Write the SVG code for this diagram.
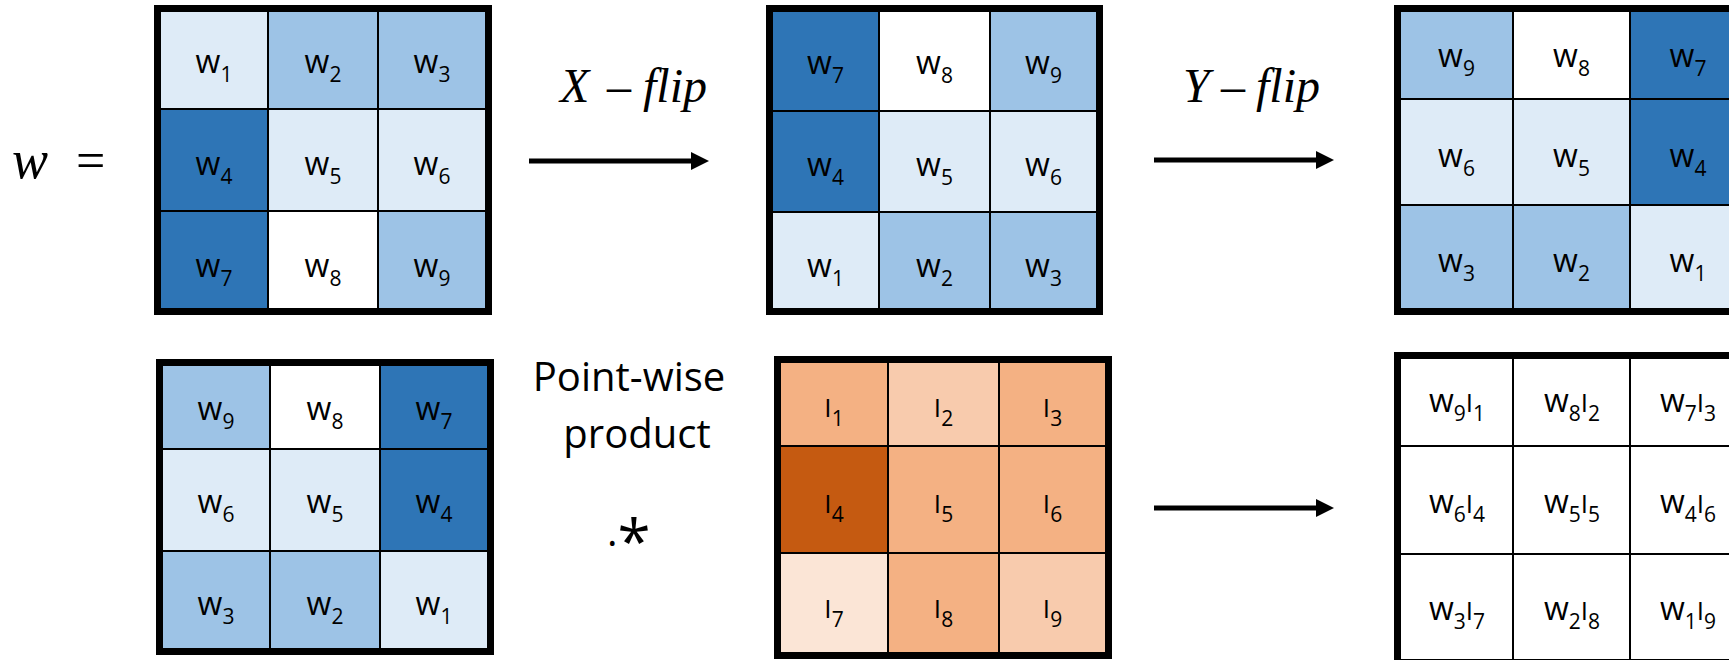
<svg xmlns="http://www.w3.org/2000/svg" width="1729" height="660" viewBox="0 0 1729 660">
<style>
.c{stroke:#000;stroke-width:2}
.b{fill:none;stroke:#000;stroke-width:6}
.d{fill:#2E75B6}.m{fill:#9DC3E6}.l{fill:#DEEBF7}.wh{fill:#FFFFFF}
.od{fill:#C55A11}.om{fill:#F4B183}.ol{fill:#F8CBAD}.ov{fill:#FBE5D6}
.t{font-family:"Open Sans","Noto Sans",sans-serif;font-size:32px;text-anchor:middle;fill:#000}
.s{font-size:21px}
.i{font-size:26px}
.m1{font-family:"Liberation Serif","Times New Roman",serif;font-style:italic;font-size:48px;fill:#000}
.lab{font-family:"Open Sans","Noto Sans",sans-serif;font-size:40px;text-anchor:middle;fill:#000}
.arr{stroke:#000;stroke-width:5;fill:none}
</style>
<defs>
<marker id="ah" viewBox="0 0 18 18" markerWidth="18" markerHeight="18" refX="8" refY="9" markerUnits="userSpaceOnUse" orient="auto">
<path d="M0,0 L18,9 L0,18 z" fill="#000"/>
</marker>
</defs>

<g id="w-label">
<text x="12" y="178" font-family="Liberation Serif, serif" font-style="italic" font-size="54">w</text>
<text x="76" y="178" font-family="Liberation Serif, serif" font-size="52">=</text>
</g>

<g id="grid-w">
<rect class="c l" x="160" y="11" width="108" height="98"/>
<rect class="c m" x="268" y="11" width="110" height="98"/>
<rect class="c m" x="378" y="11" width="108" height="98"/>
<rect class="c d" x="160" y="109" width="108" height="102"/>
<rect class="c l" x="268" y="109" width="110" height="102"/>
<rect class="c l" x="378" y="109" width="108" height="102"/>
<rect class="c d" x="160" y="211" width="108" height="98"/>
<rect class="c wh" x="268" y="211" width="110" height="98"/>
<rect class="c m" x="378" y="211" width="108" height="98"/>
<rect class="b" x="157" y="8" width="332" height="304"/>
<text class="t" x="214" y="73">w<tspan class="s" dy="9">1</tspan></text>
<text class="t" x="323" y="73">w<tspan class="s" dy="9">2</tspan></text>
<text class="t" x="432" y="73">w<tspan class="s" dy="9">3</tspan></text>
<text class="t" x="214" y="175">w<tspan class="s" dy="9">4</tspan></text>
<text class="t" x="323" y="175">w<tspan class="s" dy="9">5</tspan></text>
<text class="t" x="432" y="175">w<tspan class="s" dy="9">6</tspan></text>
<text class="t" x="214" y="277">w<tspan class="s" dy="9">7</tspan></text>
<text class="t" x="323" y="277">w<tspan class="s" dy="9">8</tspan></text>
<text class="t" x="432" y="277">w<tspan class="s" dy="9">9</tspan></text>
</g>

<g id="label-xflip">
<text class="m1" y="102"><tspan x="560">X</tspan><tspan x="607">–</tspan><tspan x="643">flip</tspan></text>
</g>

<g id="grid-xflip">
<rect class="c d" x="772" y="11" width="107" height="100"/>
<rect class="c wh" x="879" y="11" width="111" height="100"/>
<rect class="c m" x="990" y="11" width="107" height="100"/>
<rect class="c d" x="772" y="111" width="107" height="101"/>
<rect class="c l" x="879" y="111" width="111" height="101"/>
<rect class="c l" x="990" y="111" width="107" height="101"/>
<rect class="c l" x="772" y="212" width="107" height="97"/>
<rect class="c m" x="879" y="212" width="111" height="97"/>
<rect class="c m" x="990" y="212" width="107" height="97"/>
<rect class="b" x="769" y="8" width="331" height="304"/>
<text class="t" x="825.5" y="74">w<tspan class="s" dy="9">7</tspan></text>
<text class="t" x="934.5" y="74">w<tspan class="s" dy="9">8</tspan></text>
<text class="t" x="1043.5" y="74">w<tspan class="s" dy="9">9</tspan></text>
<text class="t" x="825.5" y="176">w<tspan class="s" dy="9">4</tspan></text>
<text class="t" x="934.5" y="176">w<tspan class="s" dy="9">5</tspan></text>
<text class="t" x="1043.5" y="176">w<tspan class="s" dy="9">6</tspan></text>
<text class="t" x="825.5" y="277">w<tspan class="s" dy="9">1</tspan></text>
<text class="t" x="934.5" y="277">w<tspan class="s" dy="9">2</tspan></text>
<text class="t" x="1043.5" y="277">w<tspan class="s" dy="9">3</tspan></text>
</g>

<g id="label-yflip">
<text class="m1" y="102"><tspan x="1183">Y</tspan><tspan x="1221">–</tspan><tspan x="1256">flip</tspan></text>
</g>

<g id="grid-yflip">
<rect class="c m" x="1400" y="11" width="113" height="88"/>
<rect class="c wh" x="1513" y="11" width="117" height="88"/>
<rect class="c d" x="1630" y="11" width="116" height="88"/>
<rect class="c l" x="1400" y="99" width="113" height="106"/>
<rect class="c l" x="1513" y="99" width="117" height="106"/>
<rect class="c d" x="1630" y="99" width="116" height="106"/>
<rect class="c m" x="1400" y="205" width="113" height="104"/>
<rect class="c m" x="1513" y="205" width="117" height="104"/>
<rect class="c l" x="1630" y="205" width="116" height="104"/>
<rect class="b" x="1397" y="8" width="352" height="304"/>
<text class="t" x="1456.5" y="67">w<tspan class="s" dy="9">9</tspan></text>
<text class="t" x="1571.5" y="67">w<tspan class="s" dy="9">8</tspan></text>
<text class="t" x="1688" y="67">w<tspan class="s" dy="9">7</tspan></text>
<text class="t" x="1456.5" y="167">w<tspan class="s" dy="9">6</tspan></text>
<text class="t" x="1571.5" y="167">w<tspan class="s" dy="9">5</tspan></text>
<text class="t" x="1688" y="167">w<tspan class="s" dy="9">4</tspan></text>
<text class="t" x="1456.5" y="272">w<tspan class="s" dy="9">3</tspan></text>
<text class="t" x="1571.5" y="272">w<tspan class="s" dy="9">2</tspan></text>
<text class="t" x="1688" y="272">w<tspan class="s" dy="9">1</tspan></text>
</g>

<g id="grid-flipped">
<rect class="c m" x="162" y="365" width="108" height="84"/>
<rect class="c wh" x="270" y="365" width="110" height="84"/>
<rect class="c d" x="380" y="365" width="108" height="84"/>
<rect class="c l" x="162" y="449" width="108" height="102"/>
<rect class="c l" x="270" y="449" width="110" height="102"/>
<rect class="c d" x="380" y="449" width="108" height="102"/>
<rect class="c m" x="162" y="551" width="108" height="98"/>
<rect class="c m" x="270" y="551" width="110" height="98"/>
<rect class="c l" x="380" y="551" width="108" height="98"/>
<rect class="b" x="159" y="362" width="332" height="290"/>
<text class="t" x="216" y="420">w<tspan class="s" dy="9">9</tspan></text>
<text class="t" x="325" y="420">w<tspan class="s" dy="9">8</tspan></text>
<text class="t" x="434" y="420">w<tspan class="s" dy="9">7</tspan></text>
<text class="t" x="216" y="513">w<tspan class="s" dy="9">6</tspan></text>
<text class="t" x="325" y="513">w<tspan class="s" dy="9">5</tspan></text>
<text class="t" x="434" y="513">w<tspan class="s" dy="9">4</tspan></text>
<text class="t" x="216" y="615">w<tspan class="s" dy="9">3</tspan></text>
<text class="t" x="325" y="615">w<tspan class="s" dy="9">2</tspan></text>
<text class="t" x="434" y="615">w<tspan class="s" dy="9">1</tspan></text>
</g>

<g id="label-product">
<text class="lab" x="629" y="391">Point-wise</text>
<text class="lab" x="637" y="448">product</text>
<text x="607" y="546" font-family="Open Sans, Noto Sans, sans-serif" font-size="40">.<tspan font-size="60" dy="17">*</tspan></text>
</g>

<g id="grid-image">
<rect class="c om" x="780" y="362" width="108" height="84"/>
<rect class="c ol" x="888" y="362" width="111" height="84"/>
<rect class="c om" x="999" y="362" width="107" height="84"/>
<rect class="c od" x="780" y="446" width="108" height="107"/>
<rect class="c om" x="888" y="446" width="111" height="107"/>
<rect class="c om" x="999" y="446" width="107" height="107"/>
<rect class="c ov" x="780" y="553" width="108" height="100"/>
<rect class="c om" x="888" y="553" width="111" height="100"/>
<rect class="c ol" x="999" y="553" width="107" height="100"/>
<rect class="b" x="777" y="359" width="332" height="297"/>
<text class="t i" x="834" y="417">I<tspan class="s" dy="9">1</tspan></text>
<text class="t i" x="943.5" y="417">I<tspan class="s" dy="9">2</tspan></text>
<text class="t i" x="1052.5" y="417">I<tspan class="s" dy="9">3</tspan></text>
<text class="t i" x="834" y="513">I<tspan class="s" dy="9">4</tspan></text>
<text class="t i" x="943.5" y="513">I<tspan class="s" dy="9">5</tspan></text>
<text class="t i" x="1052.5" y="513">I<tspan class="s" dy="9">6</tspan></text>
<text class="t i" x="834" y="618">I<tspan class="s" dy="9">7</tspan></text>
<text class="t i" x="943.5" y="618">I<tspan class="s" dy="9">8</tspan></text>
<text class="t i" x="1052.5" y="618">I<tspan class="s" dy="9">9</tspan></text>
</g>

<g id="grid-result">
<rect class="c wh" x="1400" y="358" width="113" height="88"/>
<rect class="c wh" x="1513" y="358" width="117" height="88"/>
<rect class="c wh" x="1630" y="358" width="116" height="88"/>
<rect class="c wh" x="1400" y="446" width="113" height="108"/>
<rect class="c wh" x="1513" y="446" width="117" height="108"/>
<rect class="c wh" x="1630" y="446" width="116" height="108"/>
<rect class="c wh" x="1400" y="554" width="113" height="106"/>
<rect class="c wh" x="1513" y="554" width="117" height="106"/>
<rect class="c wh" x="1630" y="554" width="116" height="106"/>
<rect class="b" x="1397" y="355" width="352" height="308"/>
<text class="t" x="1457" y="412">w<tspan class="s" dy="9">9</tspan><tspan class="i" dy="-9">I</tspan><tspan class="s" dy="9">1</tspan></text>
<text class="t" x="1572" y="412">w<tspan class="s" dy="9">8</tspan><tspan class="i" dy="-9">I</tspan><tspan class="s" dy="9">2</tspan></text>
<text class="t" x="1688" y="412">w<tspan class="s" dy="9">7</tspan><tspan class="i" dy="-9">I</tspan><tspan class="s" dy="9">3</tspan></text>
<text class="t" x="1457" y="513">w<tspan class="s" dy="9">6</tspan><tspan class="i" dy="-9">I</tspan><tspan class="s" dy="9">4</tspan></text>
<text class="t" x="1572" y="513">w<tspan class="s" dy="9">5</tspan><tspan class="i" dy="-9">I</tspan><tspan class="s" dy="9">5</tspan></text>
<text class="t" x="1688" y="513">w<tspan class="s" dy="9">4</tspan><tspan class="i" dy="-9">I</tspan><tspan class="s" dy="9">6</tspan></text>
<text class="t" x="1457" y="620">w<tspan class="s" dy="9">3</tspan><tspan class="i" dy="-9">I</tspan><tspan class="s" dy="9">7</tspan></text>
<text class="t" x="1572" y="620">w<tspan class="s" dy="9">2</tspan><tspan class="i" dy="-9">I</tspan><tspan class="s" dy="9">8</tspan></text>
<text class="t" x="1688" y="620">w<tspan class="s" dy="9">1</tspan><tspan class="i" dy="-9">I</tspan><tspan class="s" dy="9">9</tspan></text>
</g>

<g id="connectors">
<line class="arr" x1="529" y1="161" x2="699" y2="161" marker-end="url(#ah)"/>
<line class="arr" x1="1154" y1="160" x2="1324" y2="160" marker-end="url(#ah)"/>
<line class="arr" x1="1154" y1="508" x2="1324" y2="508" marker-end="url(#ah)"/>
</g>
</svg>
